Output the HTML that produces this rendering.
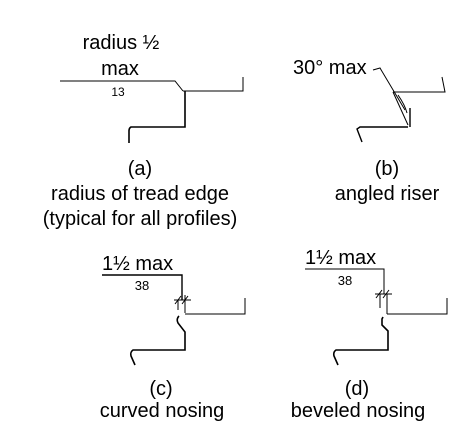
<!DOCTYPE html>
<html><head><meta charset="utf-8"><style>
html,body{margin:0;padding:0;background:#fff}
svg{display:block}
text{font-family:"Liberation Sans",sans-serif;fill:#000}
</style></head><body>
<svg width="476" height="435" viewBox="0 0 476 435" xmlns="http://www.w3.org/2000/svg">
<g fill="none" stroke="#000" stroke-width="1">
<!-- (a) -->
<path d="M60 81 H175 L183 91"/>
<path d="M183 91 H243 V77" />
<path d="M185 91 V127 H131 Q129 128 129 131 V143" stroke-width="1.6"/>
<!-- (b) -->
<path d="M373 70 L380 68 L405 110"/>
<path d="M393 92 H445 L442 77"/>
<path d="M393 92 L408 125"/>
<path d="M398 95 Q405 105 407 113"/>
<path d="M410 108 V127" stroke-width="1.4"/>
<path d="M408 127 H360 L357 129 L362 142" stroke-width="1.4"/>
<!-- (c) -->
<path d="M102 275 H182 V300" stroke-width="1.4"/>
<path d="M174 300 H191 M175 304 L181 296 M182 304 L188 296"/>
<path d="M178 300 V310"/>
<path d="M185 295 V313"/>
<path d="M185 314 H245 V298"/>
<path d="M179 316 Q176 319 178 323 L185 332 V350 H133 Q130 352 131 356 L135 365" stroke-width="1.6"/>
<!-- (d) -->
<path d="M305 269 H384 V294"/>
<path d="M375 294 H392 M376 298 L382 290 M383 298 L389 290"/>
<path d="M380 294 V308 M387 294 V314"/>
<path d="M387 314 H447 V298"/>
<path d="M383 317 L382 319 V325 L388 331 V350 H336 Q333 352 334 356 L338 365" stroke-width="1.6"/>
</g>
<g font-size="20">
<text x="121" y="49" text-anchor="middle">radius ½</text>
<text x="120" y="75" text-anchor="middle">max</text>
<text x="118" y="96" text-anchor="middle" font-size="12">13</text>
<text x="140" y="175" text-anchor="middle">(a)</text>
<text x="140" y="200" text-anchor="middle">radius of tread edge</text>
<text x="140" y="225" text-anchor="middle">(typical for all profiles)</text>
<text x="293" y="74">30° max</text>
<text x="387" y="175" text-anchor="middle">(b)</text>
<text x="387" y="200" text-anchor="middle">angled riser</text>
<text x="102" y="270">1½ max</text>
<text x="142" y="290" text-anchor="middle" font-size="13">38</text>
<text x="161" y="395" text-anchor="middle">(c)</text>
<text x="162" y="417" text-anchor="middle">curved nosing</text>
<text x="305" y="264">1½ max</text>
<text x="345" y="285" text-anchor="middle" font-size="13">38</text>
<text x="357" y="395" text-anchor="middle">(d)</text>
<text x="358" y="417" text-anchor="middle">beveled nosing</text>
</g>
</svg>
</body></html>
